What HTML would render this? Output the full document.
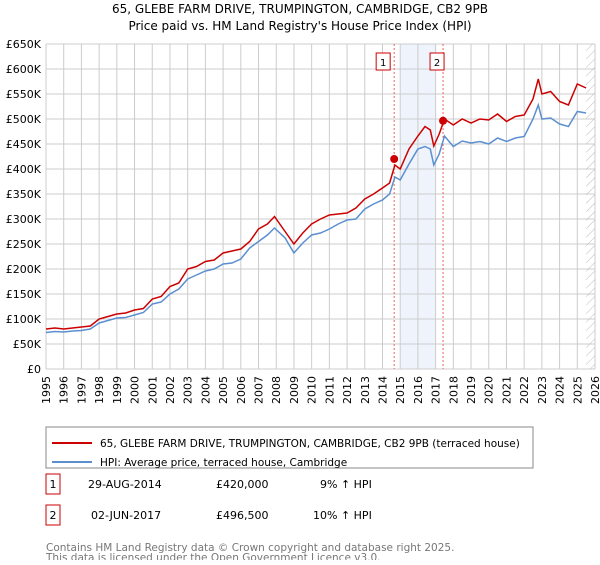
<!DOCTYPE html>
<html><head><meta charset="utf-8"><style>
body{margin:0;background:#fff;font-family:"Liberation Sans","DejaVu Sans",sans-serif}
svg text{font-family:"DejaVu Sans","Liberation Sans",sans-serif}
</style></head><body>
<svg id="c" width="600" height="560">
<text x="300" y="13" text-anchor="middle" font-size="12">65, GLEBE FARM DRIVE, TRUMPINGTON, CAMBRIDGE, CB2 9PB</text>
<text x="300" y="30" text-anchor="middle" font-size="12">Price paid vs. HM Land Registry's House Price Index (HPI)</text>
<g id="grid"></g><g id="marks"></g>
<g font-size="11" text-anchor="end">
<text transform="translate(50,376) rotate(-90)">1995</text>
<text transform="translate(67.7,376) rotate(-90)">1996</text>
<text transform="translate(85.4,376) rotate(-90)">1997</text>
<text transform="translate(103.1,376) rotate(-90)">1998</text>
<text transform="translate(120.8,376) rotate(-90)">1999</text>
<text transform="translate(138.5,376) rotate(-90)">2000</text>
<text transform="translate(156.3,376) rotate(-90)">2001</text>
<text transform="translate(174,376) rotate(-90)">2002</text>
<text transform="translate(191.7,376) rotate(-90)">2003</text>
<text transform="translate(209.4,376) rotate(-90)">2004</text>
<text transform="translate(227.1,376) rotate(-90)">2005</text>
<text transform="translate(244.8,376) rotate(-90)">2006</text>
<text transform="translate(262.5,376) rotate(-90)">2007</text>
<text transform="translate(280.2,376) rotate(-90)">2008</text>
<text transform="translate(297.9,376) rotate(-90)">2009</text>
<text transform="translate(315.6,376) rotate(-90)">2010</text>
<text transform="translate(333.4,376) rotate(-90)">2011</text>
<text transform="translate(351.1,376) rotate(-90)">2012</text>
<text transform="translate(368.8,376) rotate(-90)">2013</text>
<text transform="translate(386.5,376) rotate(-90)">2014</text>
<text transform="translate(404.2,376) rotate(-90)">2015</text>
<text transform="translate(421.9,376) rotate(-90)">2016</text>
<text transform="translate(439.6,376) rotate(-90)">2017</text>
<text transform="translate(457.3,376) rotate(-90)">2018</text>
<text transform="translate(475,376) rotate(-90)">2019</text>
<text transform="translate(492.7,376) rotate(-90)">2020</text>
<text transform="translate(510.5,376) rotate(-90)">2021</text>
<text transform="translate(528.2,376) rotate(-90)">2022</text>
<text transform="translate(545.9,376) rotate(-90)">2023</text>
<text transform="translate(563.6,376) rotate(-90)">2024</text>
<text transform="translate(581.3,376) rotate(-90)">2025</text>
<text transform="translate(599,376) rotate(-90)">2026</text>
</g>
<rect x="46" y="427" width="487" height="41" fill="none" stroke="#888"/>
<line x1="52" y1="443" x2="92" y2="443" stroke="#cc0000" stroke-width="2"/>
<text x="100" y="447" font-size="10.5">65, GLEBE FARM DRIVE, TRUMPINGTON, CAMBRIDGE, CB2 9PB (terraced house)</text>
<line x1="52" y1="462" x2="92" y2="462" stroke="#5b8fd0" stroke-width="2"/>
<text x="100" y="466" font-size="10.5">HPI: Average price, terraced house, Cambridge</text>
<rect x="46" y="474" width="14" height="20" fill="#fff" stroke="#cc0000"/>
<text x="53" y="488" text-anchor="middle" font-size="11">1</text>
<text x="88" y="488" font-size="11">29-AUG-2014</text>
<text x="216" y="488" font-size="11">£420,000</text>
<text x="320" y="488" font-size="11">9% ↑ HPI</text>
<rect x="46" y="505" width="14" height="20" fill="#fff" stroke="#cc0000"/>
<text x="53" y="519" text-anchor="middle" font-size="11">2</text>
<text x="91" y="519" font-size="11">02-JUN-2017</text>
<text x="216" y="519" font-size="11">£496,500</text>
<text x="313" y="519" font-size="11">10% ↑ HPI</text>
<text x="46" y="551" font-size="10.5" fill="#777">Contains HM Land Registry data © Crown copyright and database right 2025.</text>
<text x="46" y="561" font-size="10.5" fill="#777">This data is licensed under the Open Government Licence v3.0.</text>
</svg>
<script>
const hpiYears=[1995,1995.5,1996,1996.5,1997,1997.5,1998,1998.5,1999,1999.5,2000,2000.5,2001,2001.5,2002,2002.5,2003,2003.5,2004,2004.5,2005,2005.5,2006,2006.5,2007,2007.5,2007.9,2008.5,2009,2009.5,2010,2010.5,2011,2011.5,2012,2012.5,2013,2013.5,2014,2014.4,2014.7,2015,2015.5,2016,2016.4,2016.7,2016.9,2017.2,2017.5,2018,2018.5,2019,2019.5,2020,2020.5,2021,2021.5,2022,2022.5,2022.8,2023,2023.5,2024,2024.5,2025,2025.5];
const hpiValues=[73,75,74,76,77,80,92,97,102,103,108,113,130,134,150,160,180,188,196,200,210,212,220,242,255,268,282,262,232,252,268,272,280,290,298,300,320,330,338,350,384,378,410,440,445,440,408,430,466,445,456,452,455,450,462,455,462,465,500,528,500,502,490,485,515,512];
const ppYears=hpiYears;
const ppValues=[80,82,80,82,84,86,100,105,110,112,118,121,140,145,165,172,200,205,215,218,232,236,240,255,280,290,305,275,250,272,290,300,308,310,312,322,340,350,362,372,408,400,440,466,485,478,446,470,500,488,500,492,500,498,510,495,505,508,540,580,550,555,535,528,570,562];
const sales=[[2014.66,420],[2017.42,496.5]];
const yTicks=[0,50,100,150,200,250,300,350,400,450,500,550,600,650];
const xTicks=[];for(let y=1995;y<=2026;y++)xTicks.push(y);
const X=v=>46+(v-1995)*(549/31), Y=v=>369-v*0.5;
const NS='http://www.w3.org/2000/svg';
function mk(p,t,a){const e=document.createElementNS(NS,t);for(const k in a)e.setAttribute(k,a[k]);p.appendChild(e);return e;}
const g=document.getElementById('grid'),m=document.getElementById('marks');
const band=mk(g,'rect',{x:X(2015),y:Y(650),width:X(2017)-X(2015),height:Y(0)-Y(650),fill:'#eef3fc'});


for(const t of yTicks){
 const l=mk(g,'line',{x1:46,x2:595,y1:Y(t),y2:Y(t),stroke:'#ccc'});
 
 
 const tx=mk(g,'text',{x:41,y:Y(t)+4,'text-anchor':'end','font-size':11});
 
 
 tx.textContent=t===0?'£0':'£'+t+'K';
}
for(const t of xTicks){
 const l=mk(g,'line',{x1:X(t),x2:X(t),y1:Y(650),y2:Y(0),stroke:'#ccc'});
 
 
}
const defs=mk(g,'defs',{});const pat=mk(defs,'pattern',{id:'h',width:6,height:6,patternUnits:'userSpaceOnUse',patternTransform:'rotate(45)'});
mk(pat,'line',{x1:0,y1:0,x2:0,y2:6,stroke:'#bbb'});
const hat=mk(g,'rect',{x:X(2025.5),y:Y(650),width:595-X(2025.5),height:Y(0)-Y(650),fill:'url(#h)'});


for(const s of sales){
 const l=mk(m,'line',{x1:X(s[0]),x2:X(s[0]),y1:Y(650),y2:Y(0),stroke:'#f06060','stroke-dasharray':'2,2'});
 
 
}
const pts=(xs,vs)=>xs.map((x,i)=>X(x).toFixed(1)+','+Y(vs[i]).toFixed(1)).join(' ');
const hl=mk(m,'polyline',{points:pts(hpiYears,hpiValues),fill:'none',stroke:'#5b8fd0','stroke-width':1.5});


const pl=mk(m,'polyline',{points:pts(ppYears,ppValues),fill:'none',stroke:'#cc0000','stroke-width':1.5});


sales.forEach((s,i)=>{
 const c=mk(m,'circle',{cx:X(s[0]),cy:Y(s[1]),r:4,fill:'#cc0000'});
 
 
 const bx=X(s[0])-(i?6:11);
 const r=mk(m,'rect',{x:bx-7,y:53,width:14,height:17,fill:'#fff',stroke:'#cc0000'});
 
 
 const t=mk(m,'text',{x:bx,y:66,'text-anchor':'middle','font-size':10});
 
 
 t.textContent=i+1;
});
</script>
</body></html>
